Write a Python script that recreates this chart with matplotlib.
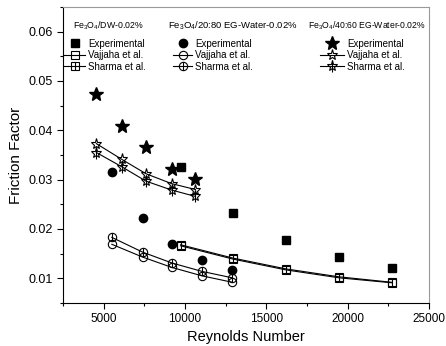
import matplotlib
matplotlib.use('Agg')
import matplotlib.pyplot as plt
from matplotlib.legend import Legend
from matplotlib.ticker import MultipleLocator, FormatStrFormatter

plt.rcParams['font.family'] = ['Liberation Sans', 'DejaVu Sans']
plt.rcParams['mathtext.fontset'] = 'custom'
plt.rcParams['mathtext.rm'] = 'Liberation Sans'
plt.rcParams['mathtext.it'] = 'Liberation Sans'

# --- Fe3O4/DW-0.02% ---
re_dw_exp = [9730, 12950, 16220, 19480, 22700]
f_dw_exp = [0.0325, 0.0232, 0.0178, 0.0144, 0.0121]
re_dw_mod = [9730, 12950, 16220, 19480, 22700]
f_dw_vaj = [0.0166, 0.0139, 0.0117, 0.0101, 0.0091]
f_dw_sha = [0.0168, 0.0141, 0.0119, 0.0103, 0.0092]

# --- Fe3O4/20:80 EG-Water-0.02% ---
re_eg20 = [5500, 7400, 9200, 11050, 12910]
f_eg20_exp = [0.0316, 0.0222, 0.0170, 0.0138, 0.0116]
f_eg20_vaj = [0.0169, 0.0143, 0.0122, 0.0105, 0.0092]
f_eg20_sha = [0.0183, 0.0153, 0.0131, 0.0114, 0.0101]

# --- Fe3O4/40:60 EG-Water-0.02% ---
re_eg40 = [4550, 6120, 7600, 9170, 10640]
f_eg40_exp = [0.0474, 0.0409, 0.0366, 0.0322, 0.0302]
f_eg40_vaj = [0.0373, 0.0341, 0.0312, 0.0292, 0.0280]
f_eg40_sha = [0.0355, 0.0326, 0.0297, 0.0279, 0.0266]

fig = plt.figure(figsize=(4.46, 3.46), dpi=100)
ax = fig.add_axes([0.1413, 0.1243, 0.8206, 0.8555])


def modelo(x, y, marker, ms, riscado=False):
    linha, = ax.plot(x, y, color='black', lw=0.8, marker=marker, ms=ms,
                     mfc='none', mec='black', mew=0.8)
    if not riscado:
        return linha
    risco, = ax.plot(x, y, ls='none', marker='|', ms=ms, mec='black', mew=0.8)
    return (linha, risco)


# experimentais
h_dw_exp, = ax.plot(re_dw_exp, f_dw_exp, ls='none', marker='s', ms=5.5, color='black')
h_eg20_exp, = ax.plot(re_eg20, f_eg20_exp, ls='none', marker='o', ms=6, color='black')
h_eg40_exp, = ax.plot(re_eg40, f_eg40_exp, ls='none', marker='*', ms=10, color='black')

# correlações
h_dw_vaj = modelo(re_dw_mod, f_dw_vaj, 's', 5.5)
h_dw_sha = modelo(re_dw_mod, f_dw_sha, 's', 5.5, riscado=True)
h_eg20_vaj = modelo(re_eg20, f_eg20_vaj, 'o', 6)
h_eg20_sha = modelo(re_eg20, f_eg20_sha, 'o', 6, riscado=True)
h_eg40_vaj = modelo(re_eg40, f_eg40_vaj, '*', 8)
h_eg40_sha = modelo(re_eg40, f_eg40_sha, '*', 8, riscado=True)

ax.set_xlim(2500, 25000)
ax.set_ylim(0.005, 0.065)
ax.xaxis.set_major_locator(MultipleLocator(5000))
ax.xaxis.set_minor_locator(MultipleLocator(2500))
ax.yaxis.set_major_locator(MultipleLocator(0.01))
ax.yaxis.set_minor_locator(MultipleLocator(0.005))
ax.yaxis.set_major_formatter(FormatStrFormatter('%.2f'))
ax.tick_params(which='both', direction='out', width=0.8)
ax.tick_params(axis='x', labelsize=8.5)
ax.tick_params(axis='y', labelsize=9)
ax.tick_params(which='major', length=4)
ax.tick_params(which='minor', length=2.5)
for lado in ['top', 'right']:
    ax.spines[lado].set_color('#999999')
ax.set_xlabel('Reynolds Number', fontsize=10.5, labelpad=3)
ax.set_ylabel('Friction Factor', fontsize=11)

# legendas em três colunas
grupos = [
    (r'Fe$_3$O$_4$/DW-0.02%', 6.3, 0.027, -0.008, 2.2, [h_dw_exp, h_dw_vaj, h_dw_sha]),
    (r'Fe$_3$O$_4$/20:80 EG-Water-0.02%', 6.8, 0.287, 0.29, 2.0, [h_eg20_exp, h_eg20_vaj, h_eg20_sha]),
    (r'Fe$_3$O$_4$/40:60 EG-Water-0.02%', 6.2, 0.669, 0.6915, 2.5, [h_eg40_exp, h_eg40_vaj, h_eg40_sha]),
]
nomes = ['Experimental', 'Vajjaha et al.', 'Sharma et al.']
for titulo, tam, xt, xl, comp, handles in grupos:
    ax.text(xt, 0.935, titulo, transform=ax.transAxes, fontsize=tam, va='center')
    leg = Legend(ax, handles, nomes, loc='upper left', bbox_to_anchor=(xl, 0.906),
                 bbox_transform=ax.transAxes, frameon=False, fontsize=7,
                 handlelength=comp, handletextpad=0.3, labelspacing=0.15,
                 borderaxespad=0)
    ax.add_artist(leg)

fig.savefig('out.png', dpi=100)
